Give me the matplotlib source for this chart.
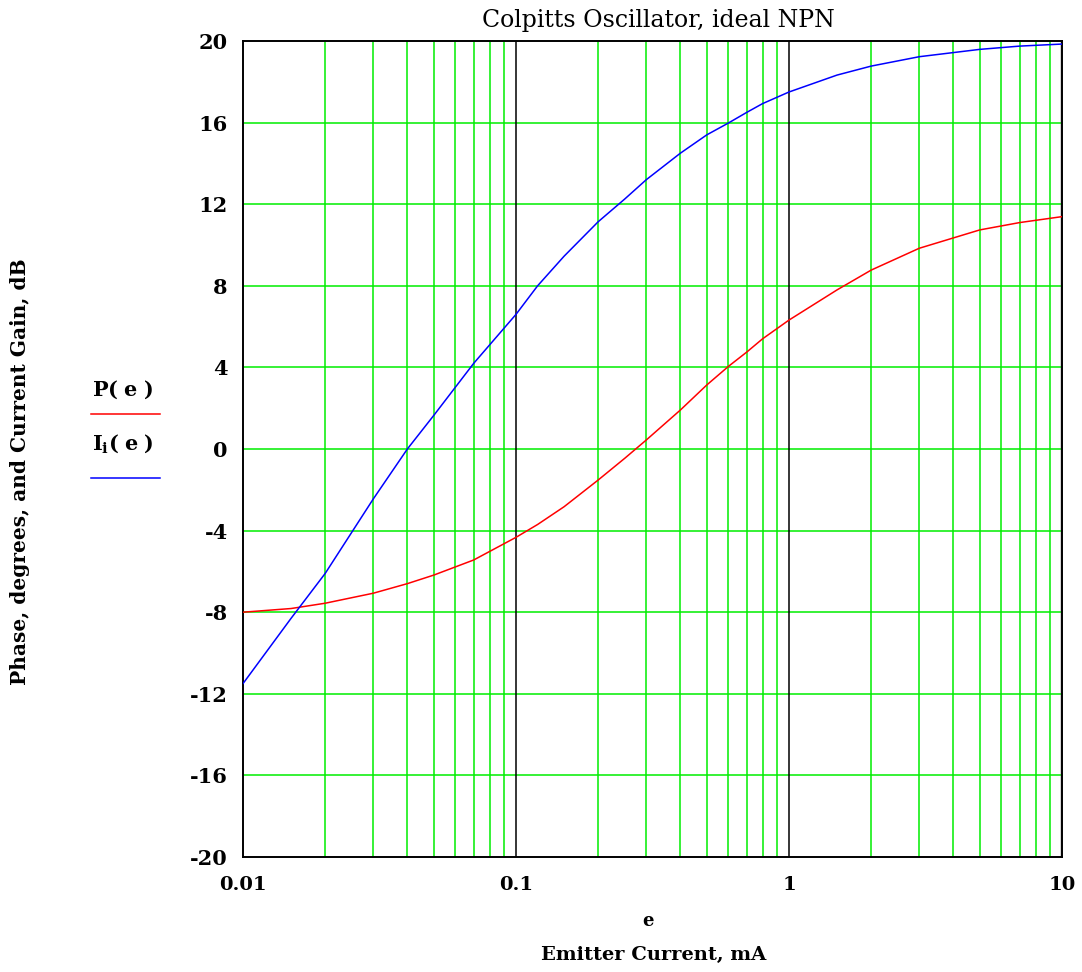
import matplotlib
matplotlib.use("Agg")
import matplotlib.pyplot as plt
from matplotlib.ticker import FixedLocator, NullFormatter, FixedFormatter

# Emitter current, mA
e_vals = [0.01, 0.015, 0.02, 0.03, 0.04, 0.05, 0.07, 0.1, 0.12, 0.15, 0.2,
          0.25, 0.3, 0.4, 0.5, 0.6, 0.7, 0.8, 1.0, 1.5, 2.0, 3.0, 5.0, 7.0, 10.0]
# Phase, degrees  P(e)
P_vals = [-8.0, -7.82, -7.56, -7.07, -6.6, -6.18, -5.44, -4.33, -3.7, -2.83,
          -1.52, -0.46, 0.44, 1.91, 3.14, 4.05, 4.75, 5.4, 6.32, 7.8, 8.77,
          9.84, 10.74, 11.1, 11.39]
# Current gain, dB  I_i(e)
I_vals = [-11.5, -8.3, -6.1, -2.45, 0.0, 1.65, 4.2, 6.6, 8.0, 9.45, 11.14,
          12.25, 13.2, 14.5, 15.4, 15.98, 16.5, 16.93, 17.5, 18.33, 18.77,
          19.23, 19.59, 19.75, 19.85]

y_ticks = [-20, -16, -12, -8, -4, 0, 4, 8, 12, 16, 20]
x_ticks = [0.01, 0.1, 1, 10]
x_tick_labels = ["0.01", "0.1", "1", "10"]

title = "Colpitts Oscillator, ideal NPN"
xlabel1 = "e"
xlabel2 = "Emitter Current, mA"
ylabel = "Phase, degrees, and Current Gain, dB"

serif = "DejaVu Serif"
plt.rcParams["axes.unicode_minus"] = False
plt.rcParams["mathtext.fontset"] = "custom"
plt.rcParams["mathtext.rm"] = "DejaVu Serif:bold"
plt.rcParams["mathtext.it"] = "DejaVu Serif:bold"
plt.rcParams["mathtext.bf"] = "DejaVu Serif:bold"

W, H = 1082, 972
fig = plt.figure(figsize=(W / 100, H / 100), dpi=100)
L, R, T, B = 243, 1062, 41, 857
ax = fig.add_axes([L / W, 1 - B / H, (R - L) / W, (B - T) / H])

green = "#00ee00"
ax.set_xscale("log")
ax.set_xlim(0.01, 10)
ax.set_ylim(-20, 20)

# grid lines
minor = [m * 10.0 ** k for k in (-2, -1, 0) for m in range(2, 10)]
for xv in minor:
    ax.axvline(xv, color=green, lw=1.1, zorder=1)
for yv in y_ticks[1:-1]:
    ax.axhline(yv, color=green, lw=1.1, zorder=1)
for xv in (0.1, 1):
    ax.axvline(xv, color="black", lw=1.1, zorder=1.5)
ax.axvline(10, color="#555555", lw=2.5, zorder=1.5)

ax.plot(e_vals, P_vals, color="#ff0000", lw=1.1, zorder=3)
ax.plot(e_vals, I_vals, color="#0000ff", lw=1.1, zorder=3)

for s in ax.spines.values():
    s.set_color("black")
    s.set_linewidth(1.4)

ax.xaxis.set_major_locator(FixedLocator(x_ticks))
ax.xaxis.set_major_formatter(FixedFormatter(x_tick_labels))
ax.xaxis.set_minor_locator(FixedLocator([]))
ax.xaxis.set_minor_formatter(NullFormatter())
ax.set_yticks(y_ticks)
ax.tick_params(length=0, labelsize=15)
for lab in ax.get_xticklabels() + ax.get_yticklabels():
    lab.set_fontfamily(serif)
    lab.set_fontweight("bold")
ax.tick_params(axis="x", pad=14, labelsize=14)
ax.tick_params(axis="y", pad=11)

fig.text(658 / W, 1 - 20 / H, title, ha="center", va="center",
         fontsize=17, family=serif)
fig.text(648 / W, 1 - 921 / H, xlabel1, ha="center", va="center",
         fontsize=13, family=serif, weight="bold")
fig.text(654 / W, 1 - 955 / H, xlabel2, ha="center", va="center",
         fontsize=14, family=serif, weight="bold")
fig.text(20 / W, 1 - 472 / H, ylabel, ha="center", va="center",
         rotation=90, fontsize=14.5, family=serif, weight="bold")

# legend
fig.text(92 / W, 1 - 390 / H, r"$\mathrm{P(\;e\;)}$", ha="left", va="center",
         fontsize=15)
fig.add_artist(plt.Line2D([91 / W, 160 / W], [1 - 414 / H, 1 - 414 / H],
                          color="#ff0000", lw=1.1, transform=fig.transFigure))
fig.text(92 / W, 1 - 444 / H, r"$\mathrm{I_{i}(\;e\;)}$", ha="left", va="center",
         fontsize=15)
fig.add_artist(plt.Line2D([91 / W, 160 / W], [1 - 478 / H, 1 - 478 / H],
                          color="#0000ff", lw=1.1, transform=fig.transFigure))

fig.savefig("out.png", dpi=100)
